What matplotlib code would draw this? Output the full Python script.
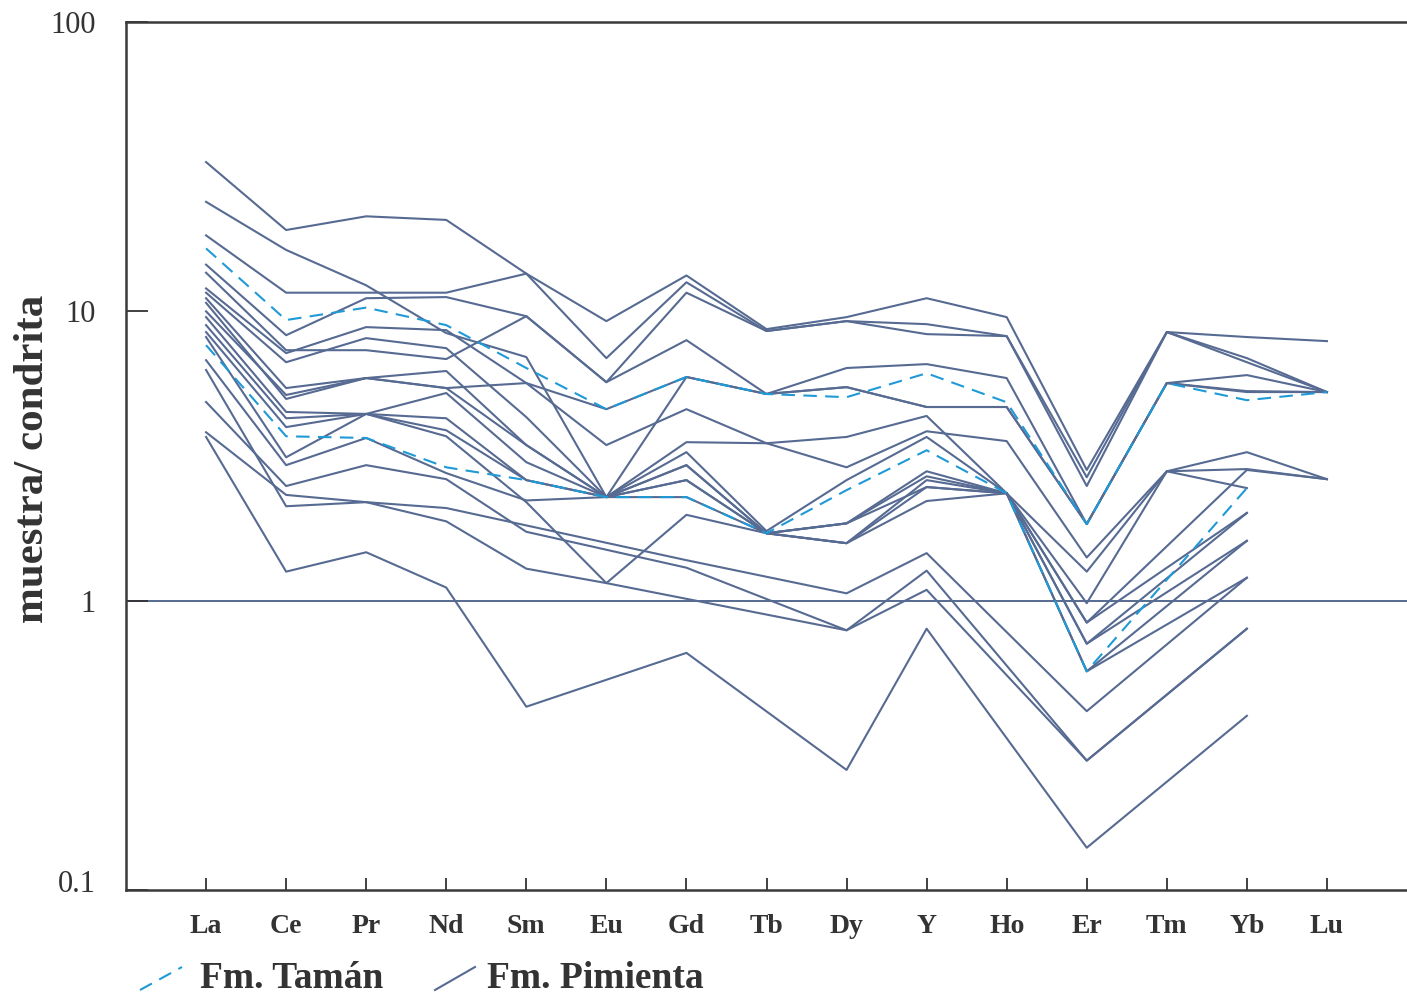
import matplotlib.pyplot as plt
from matplotlib.lines import Line2D
from matplotlib.ticker import NullLocator
from matplotlib.transforms import ScaledTranslation

plt.rcParams['font.family'] = ['Liberation Serif', 'DejaVu Serif']

elements = ["La", "Ce", "Pr", "Nd", "Sm", "Eu", "Gd", "Tb", "Dy", "Y", "Ho", "Er", "Tm", "Yb", "Lu"]

# muestras Fm. Pimienta (normalizadas a condrita); None = sin dato
p01 = [32.8, 19.1, 21.3, 20.7, 13.5, 9.25, 13.3, 8.68, 9.55, 11.1, 9.55, 2.83, 8.48, 8.15, 7.89]
p02 = [18.3, 11.6, 11.6, 11.6, 13.5, 6.89, 12.6, 8.55, 9.25, 9.03, 8.21, 2.67, 8.48, 6.89, 5.26]
p03 = [14.5, 8.27, 11.1, 11.2, 9.62, 5.69, 11.6, 8.55, 9.25, 8.34, 8.21, 2.49, 8.48, 6.67, 5.26]
p04 = [23.9, 16.3, 12.3, 8.41, 6.95, 2.28, 5.93, 5.18, 5.47, 4.67, 4.67, 1.84, 5.65, 5.26, 5.26]
p05 = [13.6, 7.34, 7.34, 6.84, 9.62, 5.69, 7.95, 5.18, 6.37, 6.57, 5.88, 1.84, 5.65, 6.02, 5.26]
p06 = [12.0, 7.17, 8.82, 8.61, 5.65, 3.45, 4.59, 3.50, 2.89, 3.85, 3.56, 1.41, 2.80, 3.26, 2.63]
p07 = [11.6, 6.67, 8.08, 7.46, 4.31, 2.28, 3.53, 3.50, 3.68, 4.35, 2.35, 1.26, 2.80, 2.85, 2.63]
p08 = [11.1, 5.43, 5.88, 6.22, 3.45, 2.28, 2.94, 1.71, 1.85, 2.69, 2.35, 0.98, 2.80, 2.45, None]
p09 = [10.0, 5.14, 5.88, 5.43, 3.45, 2.28, 2.61, 1.71, 1.85, 2.80, 2.35, 0.84, None, 2.83, 2.63]
p10 = [9.55, 4.49, 4.42, 5.22, 3.01, 2.28, 2.61, 1.71, 1.58, 2.47, 2.35, 0.84, None, 2.01, None]
p11 = [8.96, 4.27, 4.42, 4.27, 2.61, 2.28, 3.26, 1.74, 2.61, 3.68, 2.35, 0.71, None, 1.61, None]
p12 = [8.48, 3.98, 4.42, 3.70, 2.19, 1.15, 1.98, 1.71, 1.58, 2.21, 2.35, 0.57, None, 1.61, None]
p13 = [8.15, 3.13, 4.42, 3.88, 2.61, 2.28, 2.94, 1.71, 1.58, 2.61, 2.35, 0.57, None, 1.20, None]
p14 = [6.78, 2.94, 3.65, 2.76, 2.22, 2.28, 2.28, 1.71, 1.85, 2.47, 2.35, 0.71, None, 2.01, None]
p15 = [6.27, 2.12, 2.19, 2.09, None, None, 1.38, None, 1.06, 1.46, None, 0.415, None, 1.20, None]
p16 = [4.86, 2.49, 2.94, 2.63, 1.73, None, 1.30, None, 0.79, 1.27, None, 0.28, None, 0.80, None]
p17 = [3.82, 2.32, 2.19, 1.88, 1.29, 1.15, None, None, 0.79, 1.09, None, 0.28, None, 0.80, None]
p18 = [3.68, 1.26, 1.47, 1.11, 0.43, None, 0.66, None, 0.26, 0.80, None, 0.14, None, 0.40, None]
p19 = [10.7, 4.98, 5.88, 5.43, 5.65, 4.59, 5.93, 5.18, 5.47, 4.67, 4.67, 1.84, 5.65, 5.30, 5.26]

# muestras Fm. Tamán
t01 = [16.5, 9.33, 10.3, 8.96, 6.37, 4.59, 5.93, 5.18, 5.05, 6.11, 4.85, 1.84, 5.65, 4.93, 5.26]
t02 = [7.64, 3.70, 3.65, 2.89, 2.61, 2.28, 2.28, 1.71, 2.41, 3.31, 2.35, 0.57, None, 2.45, None]

pimienta = [p01, p02, p03, p04, p05, p06, p07, p08, p09, p10,
            p11, p12, p13, p14, p15, p16, p17, p18, p19]
taman = [t01, t02]

slate = "#566a92"
blue = "#1f9ad6"
ink = "#333333"


def points(row):
    xs = [i for i, v in enumerate(row) if v is not None]
    ys = [v for v in row if v is not None]
    return xs, ys


fig = plt.figure(figsize=(14.07, 9.99), dpi=100)
ax = fig.add_axes([126 / 1407, 1 - 890 / 999, 1 - 126 / 1407, (890 - 22) / 999])

for row in pimienta:
    xs, ys = points(row)
    ax.plot(xs, ys, color=slate, lw=1.5, zorder=2)

for row in taman:
    xs, ys = points(row)
    ax.plot(xs, ys, color=blue, lw=1.5, dashes=(6.5, 4), zorder=3)

ax.axhline(1, color=slate, lw=1.4, zorder=1)

ax.set_yscale("log")
ax.set_ylim(0.1, 100)
ax.set_xlim(-1, 15)
ax.yaxis.set_minor_locator(NullLocator())
ax.set_yticks([0.1, 1, 10, 100], ["0.1", "1", "10", "100"])
ax.set_xticks(range(len(elements)), elements)

ax.tick_params(axis="x", direction="in", length=9, width=1.3, pad=17, colors=ink)
ax.tick_params(axis="y", direction="in", length=16, width=1.3, pad=22, colors=ink)

for lab in ax.get_xticklabels():
    lab.set_fontweight("bold")
    lab.set_fontsize(20)
for lab in ax.get_yticklabels():
    lab.set_fontsize(22)

# el 0.1 va un poco por encima del eje
low = ax.get_yticklabels()[0]
low.set_transform(low.get_transform() + ScaledTranslation(0, 0.09, fig.dpi_scale_trans))

ax.spines["right"].set_visible(False)
for side in ["left", "bottom", "top"]:
    ax.spines[side].set_color("#3a3a3a")
    ax.spines[side].set_linewidth(1.8)

fig.text(33 / 1407, 1 - 459 / 999, "muestra/ condrita", rotation=90, ha="center", va="center",
         fontsize=31, fontweight="bold", color=ink)

# leyenda abajo, con trazos inclinados
fig.add_artist(Line2D([140 / 1407, 182 / 1407], [1 - 990 / 999, 1 - 967 / 999],
                      transform=fig.transFigure, color=blue, lw=1.5, dashes=(6.5, 4)))
fig.text(200 / 1407, 1 - 978 / 999, "Fm. Tamán", ha="left", va="center",
         fontsize=27, fontweight="bold", color=ink)
fig.add_artist(Line2D([435 / 1407, 475 / 1407], [1 - 990 / 999, 1 - 967 / 999],
                      transform=fig.transFigure, color=slate, lw=1.5))
fig.text(487 / 1407, 1 - 978 / 999, "Fm. Pimienta", ha="left", va="center",
         fontsize=27, fontweight="bold", color=ink)

fig.savefig("out.png", dpi=100)
